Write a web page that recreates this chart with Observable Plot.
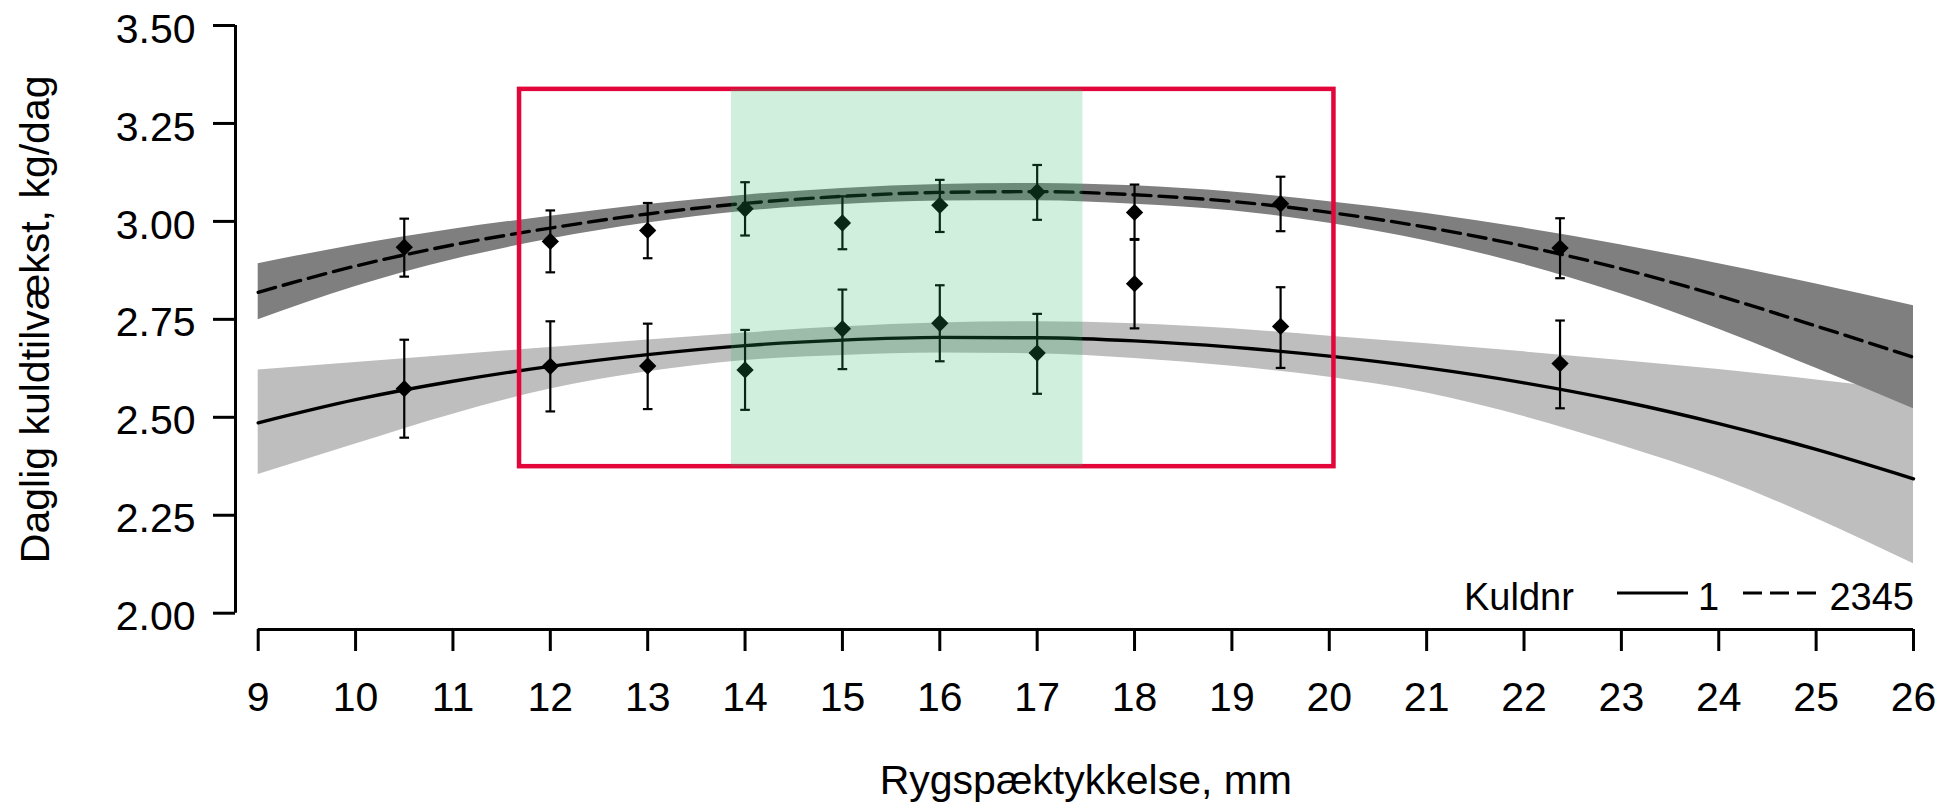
<!DOCTYPE html>
<html><head><meta charset="utf-8">
<script src="https://cdn.jsdelivr.net/npm/d3@7"></script>
<script src="https://cdn.jsdelivr.net/npm/@observablehq/plot@0.6"></script>
<style>
html,body{margin:0;padding:0;background:#fff;}
#chart{position:relative;width:1944px;height:802px;}
</style></head><body><div id="chart"></div>
<script>
// ---- data ----
const xTicks = [9,10,11,12,13,14,15,16,17,18,19,20,21,22,23,24,25,26];
const yTicks = [2.00,2.25,2.50,2.75,3.00,3.25,3.50];

// fitted curves (sampled at each mm) and their confidence bands
const fitX   = [9,10,11,12,13,14,15,16,17,18,19,20,21,22,23,24,25,26];
const fit1   = [2.486,2.545,2.592,2.630,2.660,2.683,2.697,2.704,2.703,2.695,2.679,2.656,2.626,2.588,2.541,2.484,2.418,2.343];
const lo1    = [2.354,2.432,2.508,2.572,2.616,2.645,2.658,2.664,2.662,2.650,2.630,2.602,2.562,2.502,2.428,2.345,2.242,2.126];
const hi1    = [2.621,2.640,2.659,2.678,2.697,2.715,2.731,2.741,2.744,2.739,2.726,2.707,2.688,2.667,2.645,2.622,2.595,2.566];
const fit2   = [2.819,2.886,2.940,2.983,3.019,3.046,3.064,3.074,3.076,3.068,3.051,3.023,2.985,2.937,2.879,2.810,2.733,2.653];
const lo2    = [2.749,2.834,2.902,2.955,2.996,3.026,3.043,3.052,3.053,3.044,3.027,2.995,2.950,2.890,2.815,2.725,2.625,2.522];
const hi2    = [2.892,2.940,2.980,3.013,3.043,3.067,3.084,3.094,3.097,3.091,3.075,3.050,3.020,2.983,2.940,2.892,2.840,2.785];

// observed means with error bars
const ptX    = [10.5,12,13,14,15,16,17,18,19.5,22.37];
const mean1  = [2.573,2.630,2.631,2.621,2.726,2.740,2.664,2.841,2.732,2.637];
const low1   = [2.448,2.515,2.521,2.519,2.623,2.643,2.560,2.727,2.626,2.523];
const high1  = [2.698,2.745,2.739,2.723,2.826,2.837,2.764,2.955,2.832,2.747];
const mean2  = [2.934,2.949,2.977,3.032,2.996,3.041,3.075,3.023,3.045,2.932];
const low2   = [2.859,2.870,2.906,2.964,2.929,2.973,3.004,2.953,2.975,2.855];
const high2  = [3.007,3.028,3.047,3.100,3.064,3.106,3.144,3.094,3.114,3.008];

// highlighted regions
const redBox   = {x1: 11.684, x2: 20.048, y1: 2.374, y2: 3.337};
const greenBox = {x1: 13.86,  x2: 17.47,  y1: 2.374, y2: 3.337};

const legendTitle = "Kuldnr";
const groups = ["1", "2345"];
const xLabel = "Rygspæktykkelse, mm";
const yLabel = "Daglig kuldtilvækst, kg/dag";

// ---- tables ----
const fitRows = fitX.map((x,i)=>({x, fit1:fit1[i], lo1:lo1[i], hi1:hi1[i], fit2:fit2[i], lo2:lo2[i], hi2:hi2[i]}));
const pts = [];
ptX.forEach((x,i)=>{
  pts.push({x, y:mean1[i], lo:low1[i], hi:high1[i]});
  pts.push({x, y:mean2[i], lo:low2[i], hi:high2[i]});
});

const FONT = "'Liberation Sans', Arial, Helvetica, sans-serif";
const W = 1944, H = 802;
const mL = 257.7, mR = 31, mT = 25, mB = 189.3;
const yAxisGap = 22.7, xAxisGap = 16.3;
const capSymbol = {draw(ctx, size){ const w = Math.sqrt(size/Math.PI); ctx.moveTo(-w,0); ctx.lineTo(w,0); }};
const curve = "monotone-x";

const svg = Plot.plot({
  width: W, height: H,
  marginLeft: mL, marginRight: mR, marginTop: mT, marginBottom: mB,
  style: {fontFamily: FONT, background: "white", color: "black"},
  x: {domain: [9,26], label: null},
  y: {domain: [2,3.5], label: null},
  marks: [
    Plot.areaY(fitRows, {x:"x", y1:"lo1", y2:"hi1", fill:"#BEBEBE", fillOpacity:1, curve}),
    Plot.areaY(fitRows, {x:"x", y1:"lo2", y2:"hi2", fill:"#7F7F7F", fillOpacity:1, curve}),
    Plot.line(fitRows, {x:"x", y:"fit1", stroke:"black", strokeWidth:3.4, curve}),
    Plot.line(fitRows, {x:"x", y:"fit2", stroke:"black", strokeWidth:3.4, strokeDasharray:"18,8", curve}),
    Plot.ruleX(pts, {x:"x", y1:"lo", y2:"hi", stroke:"black", strokeWidth:2.2}),
    Plot.dot(pts, {x:"x", y:"lo", symbol:capSymbol, r:4.8, stroke:"black", strokeWidth:2.2, fill:"none"}),
    Plot.dot(pts, {x:"x", y:"hi", symbol:capSymbol, r:4.8, stroke:"black", strokeWidth:2.2, fill:"none"}),
    Plot.dot(pts, {x:"x", y:"y", symbol:"diamond2", r:7.8, fill:"black", stroke:"none"}),
    Plot.rect([redBox], {x1:"x1", x2:"x2", y1:"y1", y2:"y2", fill:"none", stroke:"#E2063A", strokeWidth:4.5}),
    Plot.rect([greenBox], {x1:"x1", x2:"x2", y1:"y1", y2:"y2", fill:"rgb(45,182,100)", fillOpacity:0.22}),
    // axis lines
    Plot.ruleX([xTicks[0]], {y1: yTicks[0], y2: yTicks[yTicks.length-1], dx: -yAxisGap, stroke:"black", strokeWidth:3}),
    Plot.ruleY([yTicks[0]], {x1: xTicks[0], x2: xTicks[xTicks.length-1], dy: xAxisGap, stroke:"black", strokeWidth:3}),
    // y axis ticks and labels
    Plot.axisY({ticks: yTicks, tickSize: 22, dx: -yAxisGap, strokeWidth: 3, tickFormat: () => "", label: null}),
    Plot.axisY({ticks: yTicks, tickSize: 0, tickPadding: 40, dx: -yAxisGap, dy: 4, fontSize: 41, tickFormat: d3.format(".2f"), label: null}),
    // x axis ticks and labels
    Plot.axisX({ticks: xTicks, tickSize: 22, tickPadding: 30, dy: xAxisGap, strokeWidth: 3, fontSize: 41, tickFormat: d => String(d), label: null}),
    // axis titles
    Plot.text([yLabel], {frameAnchor: "left", rotate: -90, dx: 48 - mL, lineAnchor: "bottom", textAnchor: "middle", fontSize: 41}),
    Plot.text([xLabel], {frameAnchor: "bottom", dy: 180.3, lineAnchor: "bottom", textAnchor: "middle", fontSize: 41})
  ]
});

// legend (bottom-right inside plot area)
const lg = d3.select(svg).append("g").attr("font-family", FONT).attr("font-size", 38).attr("fill", "black");
lg.append("text").attr("x", 1464).attr("y", 610).attr("text-anchor", "start").text(legendTitle);
lg.append("line").attr("x1", 1617).attr("x2", 1688).attr("y1", 593).attr("y2", 593).attr("stroke", "black").attr("stroke-width", 3);
lg.append("text").attr("x", 1708.5).attr("y", 610).attr("text-anchor", "middle").text(groups[0]);
lg.append("line").attr("x1", 1743).attr("x2", 1817).attr("y1", 593).attr("y2", 593).attr("stroke", "black").attr("stroke-width", 3).attr("stroke-dasharray", "19,8");
lg.append("text").attr("x", 1914).attr("y", 610).attr("text-anchor", "end").text(groups[1]);

document.getElementById("chart").appendChild(svg);
</script></body></html>
